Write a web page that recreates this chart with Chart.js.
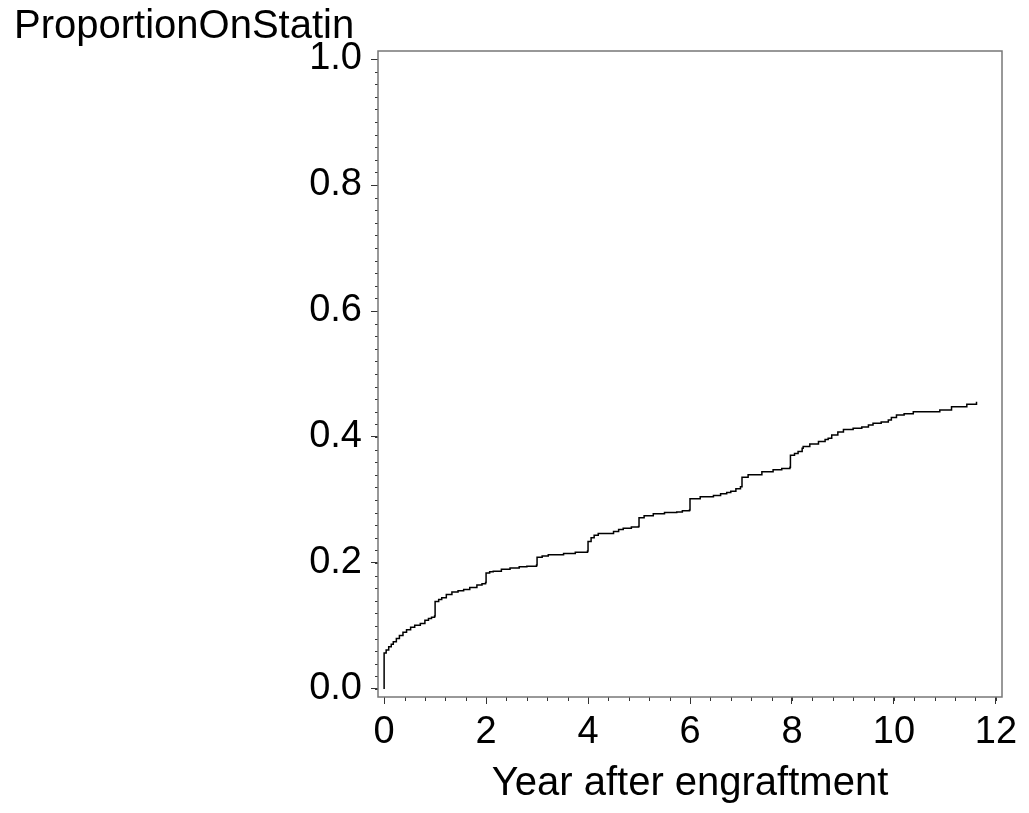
<!DOCTYPE html>
<html>
<head>
<meta charset="utf-8">
<script src="https://cdn.jsdelivr.net/npm/chart.js@4/dist/chart.umd.min.js"></script>
<style>
  body { margin: 0; background: #fff; }
</style>
</head>
<body>
<canvas id="statin_chart" width="1029" height="813"></canvas>
<script type="text/javascript">
    // step curve: years after engraftment, cumulative proportion on statin
    var years = [0, 0, 0.04, 0.09, 0.14, 0.18, 0.24, 0.30, 0.37, 0.44, 0.52, 0.60, 0.71, 0.80, 0.87, 0.93, 0.99,
        1.0, 1.07, 1.13, 1.22, 1.33, 1.45, 1.56, 1.68, 1.82, 1.92, 1.99,
        2.0, 2.07, 2.14, 2.30, 2.47, 2.65, 2.80, 2.99,
        3.0, 3.1, 3.22, 3.52, 3.75, 3.99,
        4.0, 4.06, 4.12, 4.2, 4.5, 4.6, 4.69, 4.85, 4.99,
        5.0, 5.1, 5.28, 5.5, 5.74, 5.85, 5.99,
        6.0, 6.2, 6.46, 6.6, 6.72, 6.8, 6.9, 6.99,
        7.02, 7.14, 7.41, 7.63, 7.8, 7.96,
        7.97, 8.05, 8.12, 8.2, 8.22, 8.35, 8.52, 8.65, 8.71, 8.78, 8.9,
        9.01, 9.2, 9.37, 9.5, 9.59, 9.75, 9.89, 9.95,
        10.05, 10.2, 10.38, 10.9, 11.13, 11.43, 11.62];
    var proportion = [0, 0.057, 0.062, 0.067, 0.071, 0.075, 0.080, 0.085, 0.090, 0.094, 0.098, 0.101, 0.104, 0.109, 0.112, 0.114, 0.116,
        0.139, 0.142, 0.145, 0.150, 0.154, 0.156, 0.158, 0.161, 0.165, 0.167, 0.169,
        0.184, 0.186, 0.187, 0.190, 0.192, 0.194, 0.195, 0.197,
        0.209, 0.211, 0.213, 0.215, 0.217, 0.219,
        0.234, 0.240, 0.244, 0.247, 0.250, 0.253, 0.255, 0.257, 0.258,
        0.272, 0.275, 0.278, 0.280, 0.281, 0.283, 0.284,
        0.302, 0.305, 0.307, 0.310, 0.312, 0.314, 0.318, 0.321,
        0.336, 0.340, 0.345, 0.348, 0.350, 0.352,
        0.371, 0.374, 0.377, 0.382, 0.385, 0.389, 0.393, 0.396, 0.398, 0.403, 0.408,
        0.412, 0.414, 0.416, 0.419, 0.422, 0.424, 0.427, 0.431,
        0.435, 0.437, 0.440, 0.443, 0.448, 0.452, 0.456];
    var xTicks = [0, 2, 4, 6, 8, 10, 12];
    var yTicks = [0, 0.2, 0.4, 0.6, 0.8, 1.0];
    var xMinorStep = 0.4;
    var yMinorStep = 0.02;

    var FONT = '"Liberation Sans", Arial, sans-serif';

    // frame round the plot plus the small minor ticks
    var frameAndMinor = {
        id: 'frameAndMinor',
        afterDraw: function (chart) {
            var ctx = chart.ctx, a = chart.chartArea, x = chart.scales.x, y = chart.scales.y;
            ctx.save();
            ctx.strokeStyle = '#333';
            ctx.lineWidth = 1;
            ctx.beginPath();
            for (var v = 0; v <= 1.0001; v += yMinorStep) {
                var py = Math.round(y.getPixelForValue(v)) + 0.5;
                ctx.moveTo(a.left - 3, py); ctx.lineTo(a.left, py);
            }
            for (var u = 0; u <= 12.0001; u += xMinorStep) {
                var px = Math.round(x.getPixelForValue(u)) + 0.5;
                ctx.moveTo(px, a.bottom); ctx.lineTo(px, a.bottom + 4);
            }
            ctx.stroke();
            ctx.strokeStyle = '#777';
            ctx.lineWidth = 1.5;
            ctx.strokeRect(a.left, a.top, a.right - a.left, a.bottom - a.top);
            ctx.restore();
        }
    };

    var points = years.map(function (t, i) { return {x: t, y: proportion[i]}; });

    var ctx = document.getElementById('statin_chart').getContext('2d');
    var chart = new Chart(ctx, {
        type: 'line',
        data: {
            datasets: [{
                label: 'ProportionOnStatin',
                data: points,
                stepped: true,
                borderColor: '#000',
                borderWidth: 1.5,
                pointRadius: 0,
                fill: false
            }]
        },
        options: {
            responsive: false,
            animation: false,
            layout: {padding: {left: 14, right: 27, top: 0, bottom: 0}},
            plugins: {
                legend: {display: false},
                tooltip: {enabled: false},
                title: {
                    display: true,
                    text: 'ProportionOnStatin',
                    align: 'start',
                    color: '#000',
                    font: {family: FONT, size: 40, weight: 'normal'},
                    padding: {top: 3, bottom: 0}
                }
            },
            scales: {
                x: {
                    type: 'linear',
                    min: -0.12,
                    max: 12.12,
                    afterBuildTicks: function (s) { s.ticks = xTicks.map(function (v) { return {value: v}; }); },
                    afterFit: function (s) { s.height = 116; },
                    border: {display: false},
                    grid: {drawOnChartArea: false, drawTicks: true, tickLength: 7, tickColor: '#333'},
                    ticks: {
                        color: '#000',
                        font: {family: FONT, size: 38},
                        padding: 6,
                        maxRotation: 0,
                        callback: function (v) { return String(v); }
                    },
                    title: {
                        display: true,
                        text: 'Year after engraftment',
                        color: '#000',
                        font: {family: FONT, size: 40},
                        padding: {top: 4, bottom: 5}
                    }
                },
                y: {
                    type: 'linear',
                    min: -0.0127,
                    max: 1.0127,
                    afterBuildTicks: function (s) { s.ticks = yTicks.map(function (v) { return {value: v}; }); },
                    afterFit: function (s) { s.width = 364; },
                    border: {display: false},
                    grid: {drawOnChartArea: false, drawTicks: true, tickLength: 7, tickColor: '#333'},
                    ticks: {
                        color: '#000',
                        font: {family: FONT, size: 38},
                        padding: 9,
                        callback: function (v) { return v.toFixed(1); }
                    }
                }
            }
        },
        plugins: [frameAndMinor]
    });
</script>
</body>
</html>
